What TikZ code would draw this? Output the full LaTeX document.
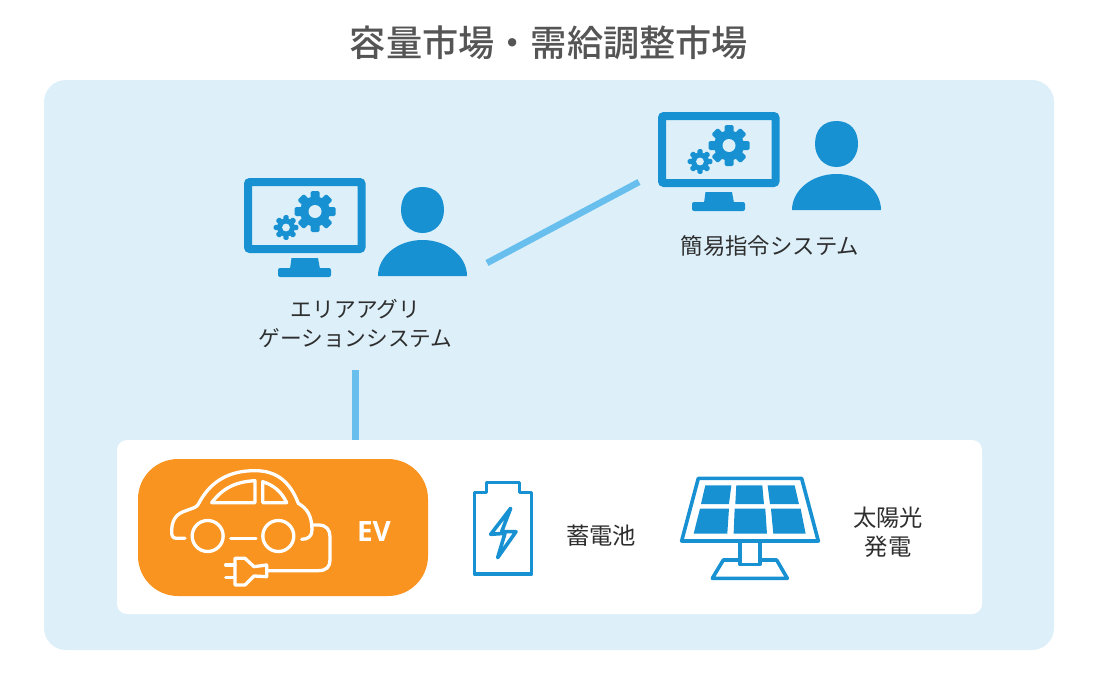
\documentclass[tikz,border=0pt]{standalone}
\usepackage{fontspec}
\usepackage{xcolor}
\setmainfont{Noto Sans CJK JP}
\newfontfamily\titlefont{Noto Sans CJK JP Medium}
\newfontfamily\latinbold[BoldFont={Open Sans Bold}]{Open Sans}
\definecolor{skypanel}{HTML}{DDF0FA}
\definecolor{iconblue}{HTML}{1891D2}
\definecolor{linkblue}{HTML}{68BFEE}
\definecolor{evorange}{HTML}{F99420}
\definecolor{titlegrey}{HTML}{555555}
\definecolor{labelgrey}{HTML}{2E2E2E}

\begin{document}
\begin{tikzpicture}[
  x=1pt, y=-1pt,
  title/.style = {font=\titlefont\fontsize{36.2}{40}\selectfont, text=titlegrey, inner sep=0pt},
  lab/.style   = {font=\fontsize{21.7}{29}\selectfont, text=labelgrey, align=center, inner sep=0pt},
  link/.style  = {linkblue, line width=6.5pt},
  outline/.style = {iconblue, line width=3.6pt, line join=round},
  evline/.style  = {white, line width=3.3pt, line join=round, line cap=round},
  gear/.pic = {
    \fill[iconblue] (0,0) circle[radius=15pt];
    \foreach \ang in {0,45,90,135}
      \fill[iconblue, rotate=\ang, rounded corners=1.5pt] (-4.5,-20.5) rectangle (4.5,20.5);
    \fill[skypanel] (0,0) circle[radius=6.5pt];
  },
  operator/.pic = {
    %% monitor, origin at its top left corner
    \draw[iconblue, line width=8pt, rounded corners=2pt] (4,4) rectangle (117.5,71);
    \fill[iconblue] (47.5,80) -- (74,80) -- (76,91) -- (46,91) -- cycle;
    \fill[iconblue, rounded corners=2pt] (34,90) rectangle (87,99);
    \pic at (71,33.5) {gear};
    \pic[scale=0.6] at (42,49.5) {gear};
    %% person
    \fill[iconblue] (157,32) .. controls (157,18) and (165,9) .. (178.5,9)
      .. controls (192,9) and (200,18) .. (200,32)
      .. controls (200,45) and (191,55) .. (178.5,55)
      .. controls (166,55) and (157,45) .. (157,32) -- cycle;
    \fill[iconblue] (134,98) arc[start angle=180, end angle=0, x radius=44.5pt, y radius=36pt] -- cycle;
  }
]
%% ---- panels --------------------------------------------------------
\useasboundingbox (0,0) rectangle (1100,680);
\fill[white] (0,0) rectangle (1100,680);
\node[title] (market) at (549,43) {容量市場・需給調整市場};
\fill[skypanel, rounded corners=22pt] (44,80) rectangle (1054,650);
\fill[white, rounded corners=10pt] (117,440) rectangle (982,614);
\fill[evorange, rounded corners=40pt] (138,459) rectangle (428,596);

%% ---- systems -------------------------------------------------------
\pic at (244,178) {operator};
\pic at (658,112) {operator};
\node[lab] (agg) at (355.5,323.5) {エリアアグリ\\ゲーションシステム};
\node[lab, font=\fontsize{22.4}{29}\selectfont] (simple) at (770,246) {簡易指令システム};

\coordinate (aggright) at (487,263);
\coordinate (simpleleft) at (639,182);
\coordinate (aggdown) at (355.5,370);
\coordinate (resources) at (355.5,440);
\draw[link] (aggright) -- (simpleleft);
\draw[link] (aggdown) -- (resources);

%% ---- EV ------------------------------------------------------------
\begin{scope}[shift={(130,450)}, x=0.3333pt, y=-0.3333pt]
  \draw[evline] (165,265) -- (140,265) .. controls (128,265) and (125,258) .. (125,245)
    .. controls (125,215) and (135,195) .. (160,185) -- (190,174)
    .. controls (203,170) and (205,162) .. (212,150)
    .. controls (245,95) and (295,62) .. (375,62)
    .. controls (440,62) and (480,95) .. (505,160)
    .. controls (530,175) and (546,195) .. (546,240)
    .. controls (546,258) and (535,268) .. (515,268);
  \draw[evline] (245,158) -- (375,158) -- (375,92) .. controls (320,95) and (280,112) .. (245,158) -- cycle;
  \draw[evline] (398,158) -- (470,158) .. controls (455,125) and (430,105) .. (398,95) -- cycle;
  \draw[evline] (233,258) circle[radius=15.5pt];
  \draw[evline] (445,258) circle[radius=15.5pt];
  \draw[evline] (302,265) -- (378,265);
  \draw[evline] (548,225) -- (565,225) .. controls (590,225) and (600,240) .. (600,260)
    -- (600,330) .. controls (600,350) and (590,362) .. (565,362) -- (412,362);
  \draw[evline] (315,325) -- (345,325) -- (372,350) -- (410,345) -- (410,380) -- (372,378) -- (345,405) -- (315,405) -- cycle;
  \draw[evline] (287,345) -- (315,345);
  \draw[evline] (287,382) -- (315,382);
\end{scope}
\node[inner sep=0pt, text=white, font=\latinbold\bfseries\fontsize{28}{30}\selectfont] (ev) at (374,531) {EV};

%% ---- battery -------------------------------------------------------
\begin{scope}[shift={(460,465)}, x=0.3333pt, y=-0.3333pt]
  \draw[outline] (43,82) -- (80,82) -- (80,52) -- (178,52) -- (178,82) -- (215,82) -- (215,327) -- (43,327) -- cycle;
  \draw[outline] (152,130) -- (92,208) -- (135,205) -- (113,278) -- (168,200) -- (125,200) -- cycle;
\end{scope}
\node[lab, font=\fontsize{23.3}{29}\selectfont] (battery) at (601,536) {蓄電池};

%% ---- solar ---------------------------------------------------------
\begin{scope}[shift={(460,465)}, x=0.3333pt, y=-0.3333pt]
  \draw[outline] (715,40) -- (1025,40) -- (1075,228) -- (665,228) -- cycle;
  \fill[iconblue] (736,61) -- (814,61) -- (807,117) -- (723,117) -- cycle;
  \fill[iconblue] (829,61) -- (907,61) -- (912,117) -- (826,117) -- cycle;
  \fill[iconblue] (923,61) -- (1004,61) -- (1017,117) -- (930,117) -- cycle;
  \fill[iconblue] (720,131) -- (807,131) -- (802,206) -- (701,206) -- cycle;
  \fill[iconblue] (824,131) -- (916,131) -- (921,206) -- (821,206) -- cycle;
  \fill[iconblue] (933,131) -- (1022,131) -- (1037,206) -- (940,206) -- cycle;
  \draw[outline] (840,230) -- (840,298) -- (900,298) -- (900,230);
  \draw[outline] (840,285) -- (790,285) -- (757,340) -- (982,340) -- (950,285) -- (900,285);
\end{scope}
\node[lab, font=\fontsize{23.3}{29}\selectfont] (solar) at (888,532.5) {太陽光\\発電};
\end{tikzpicture}
\end{document}
